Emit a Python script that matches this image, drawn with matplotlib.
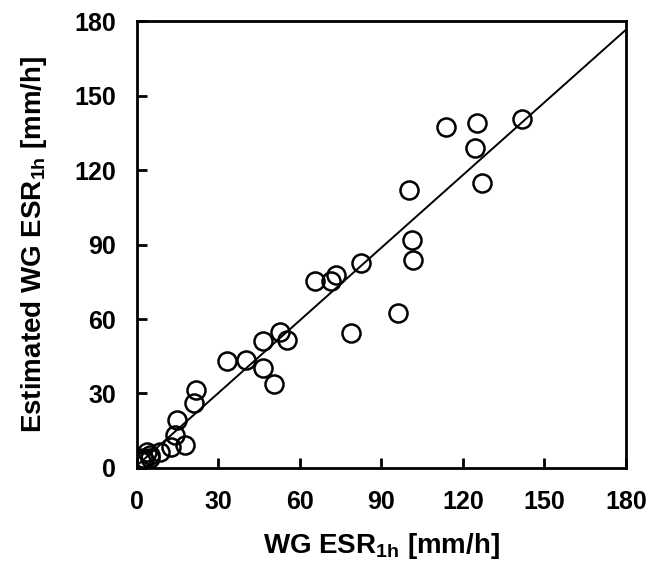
import numpy as np
import matplotlib
matplotlib.use('Agg')
import matplotlib.pyplot as plt

plt.rcParams['font.family'] = 'Liberation Sans'
plt.rcParams['font.weight'] = 'bold'
plt.rcParams['mathtext.fontset'] = 'custom'
plt.rcParams['mathtext.rm'] = 'Liberation Sans:bold'
plt.rcParams['mathtext.bf'] = 'Liberation Sans:bold'

wg_esr = [141.7, 113.7, 125.1, 124.4, 127.0, 100.1, 101.2, 101.6, 82.4, 73.2,
          71.4, 65.5, 96.1, 78.8, 52.6, 55.2, 46.4, 33.1, 40.1, 46.4,
          50.4, 21.7, 21.0, 14.7, 14.0, 17.7, 12.5, 8.5, 4.8, 3.7,
          2.2, 2.6, 1.5, 4.8]
est_esr = [140.5, 137.3, 138.9, 128.9, 114.8, 112.0, 91.8, 83.8, 82.6, 77.7,
           75.3, 75.3, 62.4, 54.4, 54.8, 51.6, 51.1, 43.1, 43.5, 40.3,
           33.8, 31.4, 26.2, 19.3, 13.3, 9.3, 8.5, 6.4, 5.2, 6.4,
           4.0, 3.2, 2.8, 4.0]

# fitted line
slope = 0.975
intercept = 1.0
ticks = [0, 30, 60, 90, 120, 150, 180]

fig = plt.figure(figsize=(6.54, 5.7), dpi=100)
ax = fig.add_axes([0.2095, 0.179, 0.7475, 0.784])

xl = np.array([0, 180])
ax.plot(xl, slope * xl + intercept, color='black', lw=1.4, zorder=1)
ax.plot(wg_esr, est_esr, 'o', ms=13, mfc='none', mec='black', mew=1.8, zorder=2)

ax.set_xlim(0, 180)
ax.set_ylim(0, 180)
ax.set_xticks(ticks)
ax.set_yticks(ticks)
ax.tick_params(direction='in', length=7, width=2, labelsize=18)
ax.tick_params(axis='x', pad=16)
ax.tick_params(axis='y', pad=15)
for s in ax.spines.values():
    s.set_linewidth(2)

ax.set_xlabel('WG ESR$_{\\mathbf{1h}}$ [mm/h]', fontsize=20, fontweight='bold', labelpad=12)
ax.set_ylabel('Estimated WG ESR$_{\\mathbf{1h}}$ [mm/h]', fontsize=20, fontweight='bold', labelpad=18)

fig.savefig('out.png', dpi=100)
